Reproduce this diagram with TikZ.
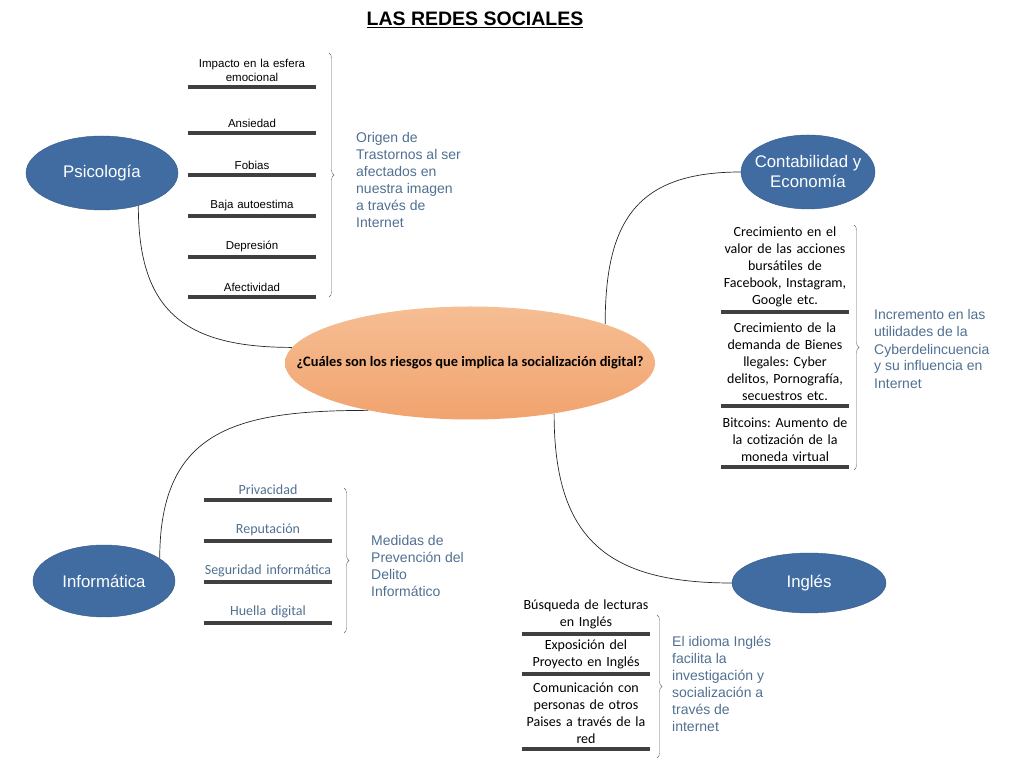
\documentclass[tikz,border=0pt]{standalone}
\usepackage{fontspec}
\setmainfont{Liberation Sans}
\newfontfamily\carlito{Carlito}
\usetikzlibrary{shapes.geometric,decorations.pathreplacing,backgrounds}
\definecolor{nodeblue}{RGB}{64,108,162}
\definecolor{nodeedge}{RGB}{50,88,138}
\definecolor{labelblue}{RGB}{80,112,145}
\definecolor{peachtop}{RGB}{246,190,148}
\definecolor{peachbot}{RGB}{241,163,110}
\definecolor{bargray}{RGB}{64,64,64}
\frenchspacing

\begin{document}
\begin{tikzpicture}[x=1pt,y=1pt,
    topic/.style={ellipse, fill=nodeblue, draw=nodeedge, inner sep=0pt},
    topictext/.style={text=white, align=center, font=\fontsize{16.8}{20}\selectfont},
    item/.style={anchor=south, text width=128pt, align=center, inner xsep=0pt, inner ysep=5pt, font=\fontsize{11.5}{14}\selectfont},
    citem/.style={item, font=\carlito\fontsize{14}{17}\selectfont},
    bitem/.style={citem, text=labelblue},
    bar/.style={line width=4pt, draw=bargray},
    note/.style={anchor=west, align=left, inner sep=0pt, text=labelblue, font=\fontsize{14}{17}\selectfont},
    curly/.style={decorate, decoration={brace, amplitude=5pt}, draw=black!60, thin},
    link/.style={draw=black!85, line width=0.7pt, looseness=1.3}]
    \useasboundingbox (0,0) rectangle (1024,768);

    \node (title) at (475,748) {\fontsize{19.5}{23}\selectfont\bfseries\underline{LAS REDES SOCIALES}};

    \node (centre) [ellipse, minimum width=370pt, minimum height=113pt, inner sep=0pt,
        top color=peachtop, bottom color=peachbot,
        label={[font=\carlito\bfseries\fontsize{14.4}{17}\selectfont]center:¿Cuáles son los riesgos que implica la socialización digital?}] at (470,405) {};

    \node (psico) [topic, minimum width=152pt, minimum height=74pt, label={[topictext]center:Psicología}] at (102,595) {};
    \node (conta) [topic, minimum width=134pt, minimum height=74pt, label={[topictext]center:Contabilidad y\\Economía}] at (808,596) {};
    \node (inform) [topic, minimum width=142pt, minimum height=72pt, label={[topictext]center:Informática}] at (104,187) {};
    \node (ingles) [topic, minimum width=154pt, minimum height=60pt, label={[topictext]center:Inglés}] at (809,185) {};

    \begin{pgfonlayer}{background}
        \draw[link] (psico.-42) to[out=-90,in=180] (centre.175);
        \draw[link] (centre.16) to[out=90,in=180] (conta.west);
        \draw[link] (inform.22) to[out=90,in=180] (centre.205);
        \draw[link] (centre.-31) to[out=-90,in=180] (ingles.west);
    \end{pgfonlayer}

    \node (p1) [item] at (252,681) {Impacto en la esfera\\emocional};
    \node (p2) [item] at (252,635) {Ansiedad};
    \node (p3) [item] at (252,593) {Fobias};
    \node (p4) [item] at (252,552) {Baja autoestima};
    \node (p5) [item] at (252,511) {Depresión};
    \node (p6) [item] at (252,471) {Afectividad};
    \foreach \n in {p1,p2,p3,p4,p5,p6}
        \draw[bar] (\n.south west) -- (\n.south east);
    \draw[curly] (329,715) -- (329,471);
    \node (psicnote) [note] at (356,588) {Origen de\\Trastornos al ser\\afectados en\\nuestra imagen\\a través de\\Internet};

    \node (c1) [citem] at (785,456) {Crecimiento en el\\valor de las acciones\\bursátiles de\\Facebook, Instagram,\\Google etc.};
    \node (c2) [citem] at (785,362) {Crecimiento de la\\demanda de Bienes\\llegales: Cyber\\delitos, Pornografía,\\secuestros etc.};
    \node (c3) [citem] at (785,301) {Bitcoins: Aumento de\\la cotización de la\\moneda virtual};
    \foreach \n in {c1,c2,c3}
        \draw[bar] (\n.south west) -- (\n.south east);
    \draw[curly] (854,543) -- (854,298);
    \node (contnote) [note] at (874,419) {Incremento en las\\utilidades de la\\Cyberdelincuencia\\y su influencia en\\Internet};

    \node (f1) [bitem] at (268,268) {Privacidad};
    \node (f2) [bitem] at (268,227) {Reputación};
    \node (f3) [bitem] at (268,186) {Seguridad informática};
    \node (f4) [bitem] at (268,145) {Huella digital};
    \foreach \n in {f1,f2,f3,f4}
        \draw[bar] (\n.south west) -- (\n.south east);
    \draw[curly] (344,280) -- (344,135);
    \node (infnote) [note] at (371,202) {Medidas de\\Prevención del\\Delito\\Informático};

    \node (e1) [citem] at (586,134) {Búsqueda de lecturas\\en Inglés};
    \node (e2) [citem] at (586,94) {Exposición del\\Proyecto en Inglés};
    \node (e3) [citem] at (586,19) {Comunicación con\\personas de otros\\Paises a través de la\\red};
    \foreach \n in {e1,e2,e3}
        \draw[bar] (\n.south west) -- (\n.south east);
    \draw[curly] (657,153) -- (657,10);
    \node (ingnote) [note] at (672,84) {El idioma Inglés\\facilita la\\investigación y\\socialización a\\través de\\internet};
\end{tikzpicture}
\end{document}
